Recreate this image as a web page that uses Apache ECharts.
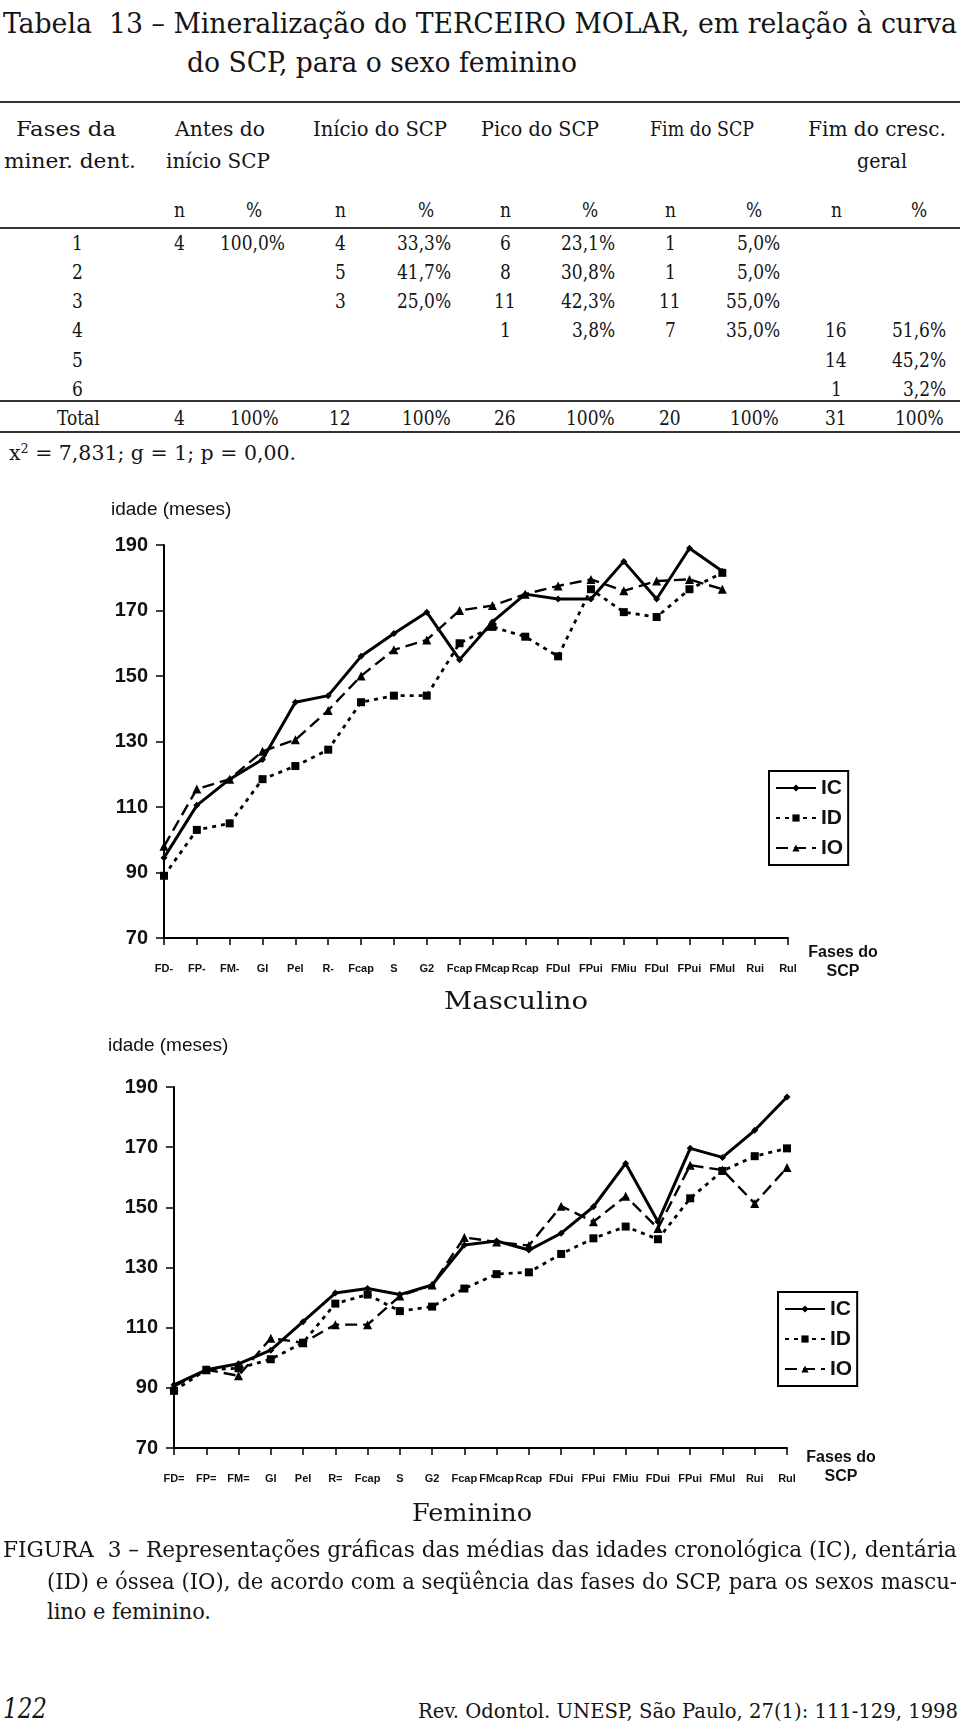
<!DOCTYPE html>
<html><head><meta charset="utf-8">
<script src="https://cdn.jsdelivr.net/npm/echarts@6/dist/echarts.min.js"></script>
<style>
html,body{margin:0;padding:0;background:#fff;}
#page{position:relative;width:960px;height:1728px;overflow:hidden;background:#fff;color:#151515;font-family:"DejaVu Serif Condensed","DejaVu Serif",serif;}
.t{position:absolute;white-space:nowrap;line-height:1;transform-origin:0 50%;}
.rule{position:absolute;left:0;width:960px;height:2px;background:#333;}
.chart{position:absolute;left:0;width:960px;}
sup{font-size:0.62em;vertical-align:0.55em;line-height:0;}
</style></head><body><div id="page">
<div class="rule" style="top:101px"></div>
<div class="rule" style="top:227px"></div>
<div class="rule" style="top:400px"></div>
<div class="rule" style="top:431px"></div>
<div id="cm" class="chart" style="top:480px;height:560px"></div>
<div id="cf" class="chart" style="top:1030px;height:500px"></div>
</div>
<script>
// ---------- table data ----------
const rowLabels = ['1','2','3','4','5','6'];
const antesN = ['4','','','','',''];
const antesP = ['100,0%','','','','',''];
const inicioN = ['4','5','3','','',''];
const inicioP = ['33,3%','41,7%','25,0%','','',''];
const picoN = ['6','8','11','1','',''];
const picoP = ['23,1%','30,8%','42,3%','3,8%','',''];
const fimN = ['1','1','11','7','',''];
const fimP = ['5,0%','5,0%','55,0%','35,0%','',''];
const geralN = ['','','','16','14','1'];
const geralP = ['','','','51,6%','45,2%','3,2%'];
const totalN = ['4','12','26','20','31'];
const totalP = ['100%','100%','100%','100%','100%'];

// ---------- chart data ----------
const phasesM = ['FD-','FP-','FM-','GI','Pel','R-','Fcap','S','G2','Fcap','FMcap','Rcap','FDul','FPui','FMiu','FDul','FPui','FMul','Rui','Rul'];
const phasesF = ['FD=','FP=','FM=','GI','Pel','R=','Fcap','S','G2','Fcap','FMcap','Rcap','FDui','FPui','FMiu','FDui','FPui','FMul','Rui','Rul'];
const yTicks = [70, 90, 110, 130, 150, 170, 190];
const icM = [94.5,110.5,118.5,124.5,142,144,156,163,169.5,155,166.5,175,173.5,173.5,185,173.5,189,182];
const idM = [89,103,105,118.5,122.5,127.5,142,144,144,160,165,162,156,176.5,169.5,168,176.5,181.5];
const ioM = [98,115.5,118.5,127,130.5,139.5,150,158,161,170,171.5,175,177.5,179.5,176,179,179.5,176.5];
const icF = [91,96,98,102.5,112,121.5,123,121,124.2,137.5,138.8,135.8,141.4,150.2,164.6,145.2,169.6,166.6,175.6,186.7];
const idF = [89,96,96.5,99.5,105,118,121,115.5,117,123,127.8,128.4,134.5,139.7,143.6,139.4,153,162.1,167,169.6];
const ioF = [90.5,96,94,106.5,105,111,111,120.5,124.2,140,138.5,137.3,150.4,145.2,153.7,143,164,162.4,151.3,163.2];

// ---------- html text ----------
const page = document.getElementById('page');
function place(html, x, yc, size, mode, w, extra) {
  const el = document.createElement('div');
  el.className = 't';
  el.innerHTML = html;
  el.style.fontSize = size + 'px';
  if (extra) { for (const k in extra) if (k !== 'sx') el.style[k] = extra[k]; }
  page.appendChild(el);
  const r = el.getBoundingClientRect();
  const sx = w ? w / r.width : (extra && extra.sx ? extra.sx : 1);
  const W = r.width * sx;
  const left = mode === 'left' ? x : mode === 'center' ? x - W / 2 : x - W;
  el.style.left = left + 'px';
  el.style.top = (yc - r.height / 2) + 'px';
  el.style.transform = 'scaleX(' + sx + ')';
  return el;
}
// title
place('Tabela&nbsp; 13 – Mineralização do TERCEIRO MOLAR, em relação à curva', 3, 23, 27, 'left', 954);
place('do SCP, para o sexo feminino', 187, 62, 27, 'left', 390);
// headers
const HS = 21;
place('Fases da', 66, 129, HS, 'center', 100);
place('miner. dent.', 70, 161, HS, 'center', 132);
place('Antes do', 220, 129, HS, 'center', 90);
place('início SCP', 218, 161, HS, 'center', 104);
place('Início do SCP', 380, 129, HS, 'center', 134);
place('Pico do SCP', 540, 129, HS, 'center', 118);
place('Fim do SCP', 702, 129, HS, 'center', 104);
place('Fim do cresc.', 877, 129, HS, 'center', 138);
place('geral', 882, 161, HS, 'center', 50);
// number scale from measured width of "100,0%"
const probe = document.createElement('div');
probe.className = 't'; probe.style.fontSize = '21px'; probe.textContent = '100,0%';
page.appendChild(probe);
const NSX = 65 / probe.getBoundingClientRect().width;
page.removeChild(probe);
const nX = [179, 340, 505, 670, 836];
const pR = [285, 451, 615, 780, 946];
const pC = [254, 426, 590, 754, 919];
for (let c = 0; c < 5; c++) {
  place('n', nX[c], 210, 21, 'center', 0, {sx: NSX});
  place('%', pC[c], 210, 21, 'center', 0, {sx: NSX});
}
const rowY = [243, 272, 301, 330, 360, 389];
const colsN = [antesN, inicioN, picoN, fimN, geralN];
const colsP = [antesP, inicioP, picoP, fimP, geralP];
for (let r = 0; r < 6; r++) {
  place(rowLabels[r], 77, rowY[r], 21, 'center', 0, {sx: NSX});
  for (let c = 0; c < 5; c++) {
    if (colsN[c][r]) place(colsN[c][r], nX[c], rowY[r], 21, 'center', 0, {sx: NSX});
    if (colsP[c][r]) place(colsP[c][r], pR[c], rowY[r], 21, 'right', 0, {sx: NSX});
  }
}
place('Total', 78, 418, 21, 'center', 0, {sx: NSX});
for (let c = 0; c < 5; c++) {
  place(totalN[c], nX[c], 418, 21, 'center', 0, {sx: NSX});
  place(totalP[c], pC[c], 418, 21, 'center', 0, {sx: NSX});
}
place('x<sup>2</sup> = 7,831; g = 1; p = 0,00.', 9, 453, 21, 'left', 287);
// chart captions
place('Masculino', 444, 1001, 24, 'left', 144);
place('Feminino', 412, 1513, 24, 'left', 120);
place('FIGURA&nbsp; 3 – Representações gráficas das médias das idades cronológica (IC), dentária', 3, 1549, 23, 'left', 954);
place('(ID) e óssea (IO), de acordo com a seqüência das fases do SCP, para os sexos mascu-', 47, 1581, 23, 'left', 910);
place('lino e feminino.', 47, 1611, 23, 'left', 164);
place('122', 3, 1709, 28, 'left', 44, {fontStyle: 'italic'});
place('Rev. Odontol. UNESP, São Paulo, 27(1): 111-129, 1998', 418, 1711, 21, 'left', 540);

// ---------- charts ----------
const SANS = '"Liberation Sans", Arial, sans-serif';
const NARROW = '"Liberation Sans Narrow", "Liberation Sans", Arial, sans-serif';
function makeOption(cats, ic, id, io, g, leg, fasesXY, idadeXY) {
  const lineBase = {type: 'line', showSymbol: true, animation: false, connectNulls: false};
  return {
    animation: false,
    grid: g,
    xAxis: {
      type: 'category', data: cats, boundaryGap: false,
      axisLine: {show: true, lineStyle: {color: '#000', width: 2}},
      axisTick: {show: true, inside: false, length: 7, interval: 0, lineStyle: {color: '#000', width: 1.5}},
      axisLabel: {interval: 0, margin: 25, fontSize: 11, fontWeight: 'bold', fontFamily: NARROW, color: '#111'},
      splitLine: {show: false}
    },
    yAxis: {
      type: 'value', min: yTicks[0], max: yTicks[yTicks.length - 1], interval: yTicks[1] - yTicks[0],
      axisLine: {show: true, lineStyle: {color: '#000', width: 2}},
      axisTick: {show: true, inside: false, length: 8, lineStyle: {color: '#000', width: 1.5}},
      axisLabel: {margin: 16, fontSize: 20, fontWeight: 'bold', fontFamily: SANS, color: '#111'},
      splitLine: {show: false}
    },
    legend: {
      show: true, orient: 'vertical', left: leg[0], top: leg[1],
      itemWidth: 40, itemHeight: 9, itemGap: 6,
      padding: [5, 5, 5, 6], borderColor: '#000', borderWidth: 2, borderRadius: 0,
      backgroundColor: '#fff',
      textStyle: {fontSize: 21, fontWeight: 'bold', fontFamily: SANS, color: '#111', lineHeight: 24},
      data: ['IC', 'ID', 'IO']
    },
    graphic: [
      {type: 'text', x: idadeXY[0], y: idadeXY[1], style: {text: 'idade (meses)', align: 'left', verticalAlign: 'middle', font: '19px ' + SANS, fill: '#111'}},
      {type: 'text', x: fasesXY[0], y: fasesXY[1], style: {text: 'Fases do\nSCP', align: 'center', verticalAlign: 'middle', lineHeight: 19, font: 'bold 16px ' + SANS, fill: '#111'}}
    ],
    series: [
      Object.assign({}, lineBase, {name: 'IC', data: ic, symbol: 'diamond', symbolSize: 7, z: 3,
        lineStyle: {color: '#000', width: 3, type: 'solid'}, itemStyle: {color: '#000'}}),
      Object.assign({}, lineBase, {name: 'ID', data: id, symbol: 'rect', symbolSize: 8, z: 2,
        lineStyle: {color: '#000', width: 2.8, type: [4, 5]}, itemStyle: {color: '#000'}}),
      Object.assign({}, lineBase, {name: 'IO', data: io, symbol: 'triangle', symbolSize: 9, z: 2,
        lineStyle: {color: '#000', width: 2.4, type: [12, 6]}, itemStyle: {color: '#000'}})
    ]
  };
}
const cm = echarts.init(document.getElementById('cm'), null, {renderer: 'canvas'});
cm.setOption(makeOption(phasesM, icM, idM, ioM,
  {left: 164, top: 65, width: 624, height: 393, containLabel: false},
  [769, 291], [843, 482], [111, 30]));
const cf = echarts.init(document.getElementById('cf'), null, {renderer: 'canvas'});
cf.setOption(makeOption(phasesF, icF, idF, ioF,
  {left: 174, top: 57, width: 613, height: 361, containLabel: false},
  [778, 262], [841, 437], [108, 16]));
</script>
</body></html>
